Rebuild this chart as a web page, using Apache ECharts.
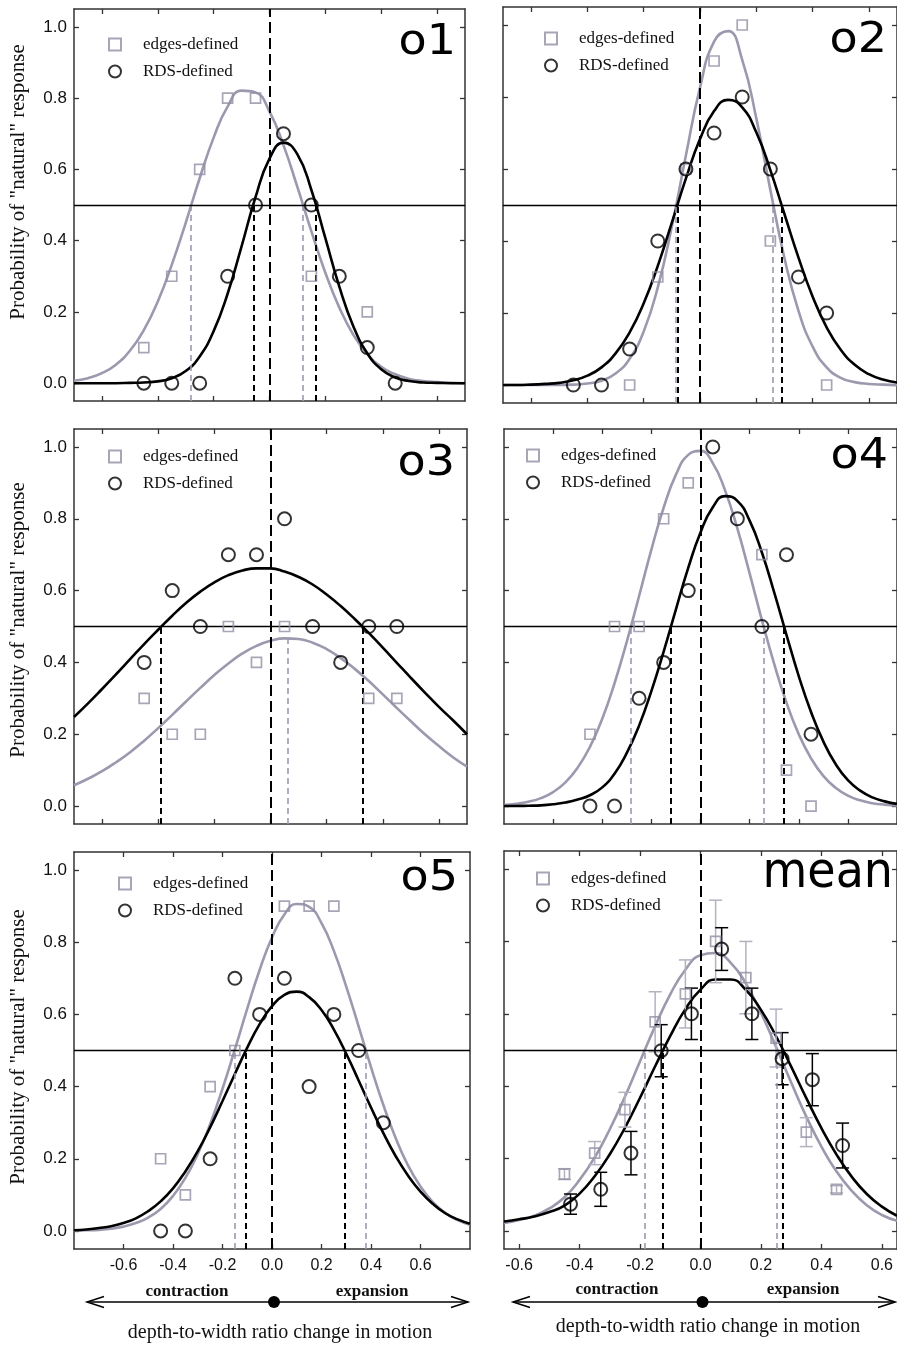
<!DOCTYPE html>
<html><head><meta charset="utf-8">
<script src="https://cdn.jsdelivr.net/npm/echarts@6/dist/echarts.min.js"></script>
<style>html,body{margin:0;padding:0;background:#fff}#c{width:897px;height:1346px}</style>
</head><body><div id="c"></div>
<script>
// ---------------- DATA ----------------
const xTickVals = [-0.6, -0.4, -0.2, 0.0, 0.2, 0.4, 0.6];
const yTickVals = [0.0, 0.2, 0.4, 0.6, 0.8, 1.0];
const criterion = 0.5;
const noChange = 0.0;
const stimLevels = [-0.45, -0.35, -0.25, -0.15, -0.05, 0.05, 0.15, 0.25, 0.35, 0.45];

const fitX70 = [-0.70,-0.65,-0.60,-0.55,-0.50,-0.45,-0.40,-0.35,-0.30,-0.25,-0.20,-0.15,-0.10,-0.05,0.00,0.05,0.10,0.15,0.20,0.25,0.30,0.35,0.40,0.45,0.50,0.55,0.60,0.65,0.70];
const fitX80 = [-0.80,-0.75,-0.70,-0.65,-0.60,-0.55,-0.50,-0.45,-0.40,-0.35,-0.30,-0.25,-0.20,-0.15,-0.10,-0.05,0.00,0.05,0.10,0.15,0.20,0.25,0.30,0.35,0.40,0.45,0.50,0.55,0.60,0.65,0.70,0.75,0.80];
const fitX65 = [-0.65,-0.60,-0.55,-0.50,-0.45,-0.40,-0.35,-0.30,-0.25,-0.20,-0.15,-0.10,-0.05,0.00,0.05,0.10,0.15,0.20,0.25,0.30,0.35,0.40,0.45,0.50,0.55,0.60,0.65];

// o1
const o1EdgesX = [-0.45, -0.35, -0.25, -0.15, -0.05, 0.15, 0.35];
const o1EdgesY = [0.1, 0.3, 0.6, 0.8, 0.8, 0.3, 0.2];
const o1RdsY = [0.0, 0.0, 0.0, 0.3, 0.5, 0.7, 0.5, 0.3, 0.1, 0.0];
const o1EdgesFit = [0.007,0.014,0.028,0.052,0.091,0.149,0.229,0.332,0.450,0.575,0.689,0.776,0.821,0.816,0.762,0.668,0.550,0.426,0.310,0.212,0.136,0.082,0.046,0.025,0.012,0.006,0.003,0.001,0.000];
const o1RdsFit = [0,0,0,0,0.001,0.002,0.005,0.014,0.034,0.075,0.146,0.251,0.384,0.522,0.630,0.675,0.642,0.542,0.407,0.271,0.160,0.084,0.039,0.016,0.006,0.002,0.001,0,0];
const o1EdgesThr = [[-0.282, 0.5], [0.120, 0.5]];
const o1RdsThr = [[-0.058, 0.5], [0.164, 0.5]];

// o2
const o2EdgesX = [-0.25, -0.15, -0.05, 0.05, 0.15, 0.25, 0.45];
const o2EdgesY = [0.0, 0.3, 0.6, 0.9, 1.0, 0.4, 0.0];
const o2RdsY = [0.0, 0.0, 0.1, 0.4, 0.6, 0.7, 0.8, 0.6, 0.3, 0.2];
const o2EdgesFit = [0,0,0,0,0,0.001,0.004,0.012,0.032,0.073,0.149,0.271,0.440,0.638,0.826,0.954,0.983,0.903,0.741,0.542,0.353,0.206,0.107,0.049,0.020,0.008,0.003,0.001,0];
const o2RdsFit = [0,0,0.001,0.003,0.006,0.013,0.026,0.049,0.088,0.146,0.227,0.331,0.451,0.574,0.683,0.761,0.792,0.771,0.702,0.597,0.475,0.354,0.246,0.160,0.098,0.056,0.030,0.015,0.007];
const o2EdgesThr = [[-0.085, 0.5], [0.257, 0.5]];
const o2RdsThr = [[-0.079, 0.5], [0.290, 0.5]];

// o3
const o3EdgesX = [-0.45, -0.35, -0.25, -0.15, -0.05, 0.05, 0.35, 0.45];
const o3EdgesY = [0.3, 0.2, 0.2, 0.5, 0.4, 0.5, 0.3, 0.3];
const o3RdsY = [0.4, 0.6, 0.5, 0.7, 0.7, 0.8, 0.5, 0.4, 0.5, 0.5];
const o3EdgesFit = [0.058,0.076,0.097,0.122,0.150,0.182,0.217,0.254,0.292,0.329,0.365,0.397,0.425,0.446,0.460,0.467,0.465,0.455,0.437,0.412,0.382,0.348,0.311,0.273,0.236,0.200,0.167,0.136,0.110];
const o3RdsFit = [0.248,0.286,0.326,0.367,0.409,0.451,0.491,0.530,0.566,0.597,0.623,0.643,0.656,0.662,0.662,0.653,0.638,0.617,0.589,0.557,0.521,0.482,0.441,0.399,0.357,0.316,0.276,0.239,0.200];
const o3EdgesThr = [[0.063, 0.467]];
const o3RdsThr = [[-0.390, 0.5], [0.327, 0.5]];

// o4
const o4EdgesX = [-0.45, -0.35, -0.25, -0.15, -0.05, 0.25, 0.35, 0.45];
const o4EdgesY = [0.2, 0.5, 0.5, 0.8, 0.9, 0.7, 0.1, 0.0];
const o4RdsY = [0.0, 0.0, 0.3, 0.4, 0.6, 1.0, 0.8, 0.5, 0.7, 0.2];
const o4EdgesFit = [0.003,0.006,0.012,0.022,0.039,0.066,0.107,0.165,0.243,0.342,0.458,0.585,0.714,0.831,0.923,0.978,0.989,0.955,0.879,0.773,0.648,0.518,0.396,0.288,0.200,0.133,0.084,0.051,0.029,0.016,0.008,0.004,0.002];
const o4RdsFit = [0,0,0.001,0.002,0.005,0.010,0.018,0.030,0.052,0.090,0.148,0.224,0.320,0.430,0.548,0.663,0.762,0.832,0.863,0.850,0.795,0.706,0.595,0.477,0.362,0.262,0.180,0.117,0.072,0.043,0.024,0.013,0.006];
const o4EdgesThr = [[-0.284, 0.5], [0.257, 0.5]];
const o4RdsThr = [[-0.120, 0.5], [0.340, 0.5]];

// o5
const o5EdgesX = [-0.45, -0.35, -0.25, -0.15, 0.05, 0.15, 0.25];
const o5EdgesY = [0.2, 0.1, 0.4, 0.5, 0.9, 0.9, 0.9];
const o5RdsY = [0.0, 0.0, 0.2, 0.7, 0.6, 0.7, 0.4, 0.6, 0.5, 0.3];
const o5EdgesFit = [0.001,0.002,0.003,0.006,0.012,0.022,0.037,0.061,0.097,0.147,0.213,0.296,0.394,0.503,0.616,0.723,0.813,0.877,0.906,0.898,0.853,0.776,0.677,0.567,0.454,0.349,0.257,0.181,0.123,0.080,0.050,0.030,0.017];
const o5RdsFit = [0.002,0.004,0.008,0.013,0.022,0.035,0.055,0.082,0.118,0.165,0.221,0.287,0.360,0.435,0.508,0.573,0.623,0.654,0.663,0.648,0.612,0.558,0.491,0.417,0.342,0.271,0.207,0.153,0.109,0.075,0.049,0.032,0.020];
const o5EdgesThr = [[-0.152, 0.5], [0.380, 0.5]];
const o5RdsThr = [[-0.106, 0.5], [0.295, 0.5]];

// mean (with standard errors)
const meanEdgesX = [-0.45, -0.35, -0.25, -0.15, -0.05, 0.05, 0.15, 0.25, 0.35, 0.45];
const meanEdgesY = [0.157, 0.215, 0.335, 0.578, 0.655, 0.800, 0.700, 0.533, 0.273, 0.115];
const meanEdgesErr = [0.015, 0.032, 0.048, 0.083, 0.094, 0.114, 0.100, 0.080, 0.040, 0.010];
const meanRdsX = [-0.43, -0.33, -0.23, -0.13, -0.03, 0.07, 0.17, 0.27, 0.37, 0.47];
const meanRdsY = [0.074, 0.115, 0.215, 0.498, 0.600, 0.779, 0.600, 0.476, 0.418, 0.236];
const meanRdsErr = [0.028, 0.047, 0.060, 0.072, 0.071, 0.059, 0.071, 0.072, 0.072, 0.062];
const meanEdgesFit = [0.022,0.030,0.042,0.062,0.093,0.141,0.203,0.281,0.371,0.469,0.566,0.654,0.722,0.762,0.768,0.741,0.684,0.603,0.508,0.410,0.316,0.233,0.164,0.111,0.071,0.044,0.028];
const meanRdsFit = [0.026,0.032,0.040,0.052,0.070,0.103,0.151,0.212,0.285,0.368,0.455,0.539,0.613,0.667,0.695,0.695,0.666,0.611,0.538,0.454,0.367,0.284,0.211,0.150,0.102,0.067,0.042];
const meanEdgesThr = [[-0.184, 0.5], [0.253, 0.5]];
const meanRdsThr = [[-0.124, 0.5], [0.273, 0.5]];

const panelNames = ['o1', 'o2', 'o3', 'o4', 'o5', 'mean'];
const legendNames = ['edges-defined', 'RDS-defined'];
const yTitle = 'Probability of "natural" response';
const xTitle = 'depth-to-width ratio change in motion';
const dirLabels = ['contraction', 'expansion'];

// ---------------- LAYOUT / STYLE ----------------
const Y_MIN = -0.05, Y_MAX = 1.05;
const GRAY = '#9b99ae', GRAY_MK = '#918fa4', GRAY_ERR = '#b3b2c0', INK = '#111', AX = '#333';
const SERIF = '"Liberation Serif","Times New Roman",serif';
const SANS = '"Liberation Sans",Arial,sans-serif';

const panels = [
  {grid:{left:74, top:9, width:391, height:392}, xMin:-0.7, xMax:0.7, fitX:fitX70,
   eX:o1EdgesX, eY:o1EdgesY, rX:stimLevels, rY:o1RdsY, eFit:o1EdgesFit, rFit:o1RdsFit, eThr:o1EdgesThr, rThr:o1RdsThr,
   yLab:true, xLab:false, legend:[108,36], tag:[456,43,43,1.07]},
  {grid:{left:503, top:7, width:402, height:396}, xMin:-0.7, xMax:0.7, fitX:fitX70,
   eX:o2EdgesX, eY:o2EdgesY, rX:stimLevels, rY:o2RdsY, eFit:o2EdgesFit, rFit:o2RdsFit, eThr:o2EdgesThr, rThr:o2RdsThr,
   yLab:false, xLab:false, legend:[544,30], tag:[887,41,43,1.07]},
  {grid:{left:74, top:429, width:393, height:395}, xMin:-0.7, xMax:0.7, fitX:fitX70,
   eX:o3EdgesX, eY:o3EdgesY, rX:stimLevels, rY:o3RdsY, eFit:o3EdgesFit, rFit:o3RdsFit, eThr:o3EdgesThr, rThr:o3RdsThr,
   yLab:true, xLab:false, legend:[108,448], tag:[455,464,43,1.07]},
  {grid:{left:504, top:429, width:421, height:395}, xMin:-0.8, xMax:0.8, fitX:fitX80,
   eX:o4EdgesX, eY:o4EdgesY, rX:stimLevels, rY:o4RdsY, eFit:o4EdgesFit, rFit:o4RdsFit, eThr:o4EdgesThr, rThr:o4RdsThr,
   yLab:false, xLab:false, legend:[526,447], tag:[888,457,43,1.07]},
  {grid:{left:74, top:852, width:396, height:397}, xMin:-0.8, xMax:0.8, fitX:fitX80,
   eX:o5EdgesX, eY:o5EdgesY, rX:stimLevels, rY:o5RdsY, eFit:o5EdgesFit, rFit:o5RdsFit, eThr:o5EdgesThr, rThr:o5RdsThr,
   yLab:true, xLab:true, legend:[118,875], tag:[458,879,43,1.07]},
  {grid:{left:504, top:851, width:398, height:398}, xMin:-0.65, xMax:0.65, fitX:fitX65,
   eX:meanEdgesX, eY:meanEdgesY, rX:meanRdsX, rY:meanRdsY, eFit:meanEdgesFit, rFit:meanRdsFit, eThr:meanEdgesThr, rThr:meanRdsThr,
   eErr:meanEdgesErr, rErr:meanRdsErr,
   yLab:false, xLab:true, legend:[536,870], tag:[893,874,50,0.92]}
];

function errRender(color, width) {
  return function (params, api) {
    const x = api.value(0), lo = api.value(1), hi = api.value(2);
    const p1 = api.coord([x, lo]), p2 = api.coord([x, hi]);
    const cap = 6.5;
    const st = {stroke: color, lineWidth: width, fill: null};
    return {type: 'group', children: [
      {type: 'line', shape: {x1: p1[0], y1: p1[1], x2: p2[0], y2: p2[1]}, style: st},
      {type: 'line', shape: {x1: p1[0] - cap, y1: p1[1], x2: p1[0] + cap, y2: p1[1]}, style: st},
      {type: 'line', shape: {x1: p2[0] - cap, y1: p2[1], x2: p2[0] + cap, y2: p2[1]}, style: st}
    ]};
  };
}

const grids = [], xAxes = [], yAxes = [], series = [], legends = [];
panels.forEach((p, i) => {
  grids.push(p.grid);
  ['bottom', 'top'].forEach(pos => xAxes.push({
    gridIndex: i, type: 'value', position: pos, min: p.xMin, max: p.xMax,
    axisLine: {show: true, onZero: false, lineStyle: {color: AX, width: 1.5}},
    axisTick: {show: true, inside: true, length: 5, customValues: xTickVals, lineStyle: {color: AX, width: 1.3}},
    axisLabel: {show: pos === 'bottom' && p.xLab, customValues: xTickVals, formatter: v => v.toFixed(1),
      margin: 9, fontFamily: SANS, fontSize: 16, color: INK},
    splitLine: {show: false}
  }));
  ['left', 'right'].forEach(pos => yAxes.push({
    gridIndex: i, type: 'value', position: pos, min: Y_MIN, max: Y_MAX,
    axisLine: {show: true, onZero: false, lineStyle: {color: AX, width: 1.5}},
    axisTick: {show: true, inside: true, length: 5, customValues: yTickVals, lineStyle: {color: AX, width: 1.3}},
    axisLabel: {show: pos === 'left' && p.yLab, customValues: yTickVals, formatter: v => v.toFixed(1),
      margin: 7, fontFamily: SANS, fontSize: 17, color: INK},
    splitLine: {show: false}
  }));
  const xi = i * 2, yi = i * 2;
  const common = {xAxisIndex: xi, yAxisIndex: yi, silent: true, animation: false};
  const thrLine = t => [{coord: [t[0], Y_MIN]}, {coord: [t[0], t[1]]}];
  series.push(Object.assign({
    type: 'line', name: 'edges fit', data: p.fitX.map((x, k) => [x, p.eFit[k]]),
    smooth: true, showSymbol: false, symbol: 'none', lineStyle: {color: GRAY, width: 2.6}, itemStyle: {color: GRAY}, z: 3,
    markLine: {silent: true, symbol: ['none', 'none'], label: {show: false}, animation: false, emphasis: {disabled: true},
      lineStyle: {color: GRAY, width: 1.6, type: [6, 4]}, data: p.eThr.map(thrLine)}
  }, common));
  series.push(Object.assign({
    type: 'line', name: 'RDS fit', data: p.fitX.map((x, k) => [x, p.rFit[k]]),
    smooth: true, showSymbol: false, symbol: 'none', lineStyle: {color: '#000', width: 2.6}, itemStyle: {color: '#000'}, z: 3,
    markLine: {silent: true, symbol: ['none', 'none'], label: {show: false}, animation: false, emphasis: {disabled: true},
      lineStyle: {color: '#000', width: 2, type: [6, 4]},
      data: p.rThr.map(thrLine).concat([
        {xAxis: noChange, lineStyle: {color: '#000', width: 2, type: [11, 5]}},
        {yAxis: criterion, lineStyle: {color: '#000', width: 1.3, type: 'solid'}}
      ])}
  }, common));
  if (p.eErr) {
    series.push(Object.assign({type: 'custom', name: 'edges err', renderItem: errRender(GRAY_ERR, 1.5),
      encode: {x: 0, y: [1, 2]}, data: p.eX.map((x, k) => [x, p.eY[k] - p.eErr[k], p.eY[k] + p.eErr[k]]), z: 4}, common));
    series.push(Object.assign({type: 'custom', name: 'RDS err', renderItem: errRender('#000', 1.5),
      encode: {x: 0, y: [1, 2]}, data: p.rX.map((x, k) => [x, p.rY[k] - p.rErr[k], p.rY[k] + p.rErr[k]]), z: 4}, common));
  }
  series.push(Object.assign({
    type: 'scatter', name: legendNames[0], data: p.eX.map((x, k) => [x, p.eY[k]]),
    symbol: 'rect', symbolSize: 10, itemStyle: {color: 'rgba(255,255,255,0)', borderColor: GRAY_MK, borderWidth: 1.7}, z: 5
  }, common));
  series.push(Object.assign({
    type: 'scatter', name: legendNames[1], data: p.rX.map((x, k) => [x, p.rY[k]]),
    symbol: 'circle', symbolSize: 13, itemStyle: {color: 'rgba(255,255,255,0)', borderColor: '#000', borderWidth: 2}, z: 6
  }, common));
  legends.push({left: p.legend[0], top: p.legend[1], orient: 'vertical', padding: 0, itemGap: 10,
    itemWidth: 12, itemHeight: 12, selectedMode: false,
    textStyle: {fontFamily: SERIF, fontSize: 17, color: INK, padding: [0, 0, 0, 17]},
    data: legendNames});
});

const graphics = [];
panels.forEach((p, i) => {
  graphics.push({id: 'tag' + i, type: 'text', x: p.tag[0], y: p.tag[1], scaleX: p.tag[3], originX: 0, originY: 0, z: 20,
    style: {text: panelNames[i], font: p.tag[2] + 'px "DejaVu Sans"', fill: '#000', align: 'right', verticalAlign: 'middle'}});
});
[182, 620, 1047].forEach((y, k) => graphics.push({id: 'yt' + k, type: 'text', x: 18, y: y, rotation: Math.PI / 2,
  style: {text: yTitle, font: '21px ' + SERIF, fill: INK, align: 'center', verticalAlign: 'middle'}}));

const chart = echarts.init(document.getElementById('c'));
chart.setOption({animation: false, grid: grids, xAxis: xAxes, yAxis: yAxes, series: series, legend: legends,
  graphic: {elements: graphics}});

// bottom annotations, anchored on each bottom panel's zero
const bottoms = [
  {axis: 8, left: 87, right: 468, y: 1302, lab: [187, 372], labY: 1292, titleX: 280, titleY: 1333},
  {axis: 10, left: 513, right: 895, y: 1302, lab: [617, 803], labY: 1290, titleX: 708, titleY: 1327}
];
const extra = [];
bottoms.forEach((b, k) => {
  const x0 = chart.convertToPixel({xAxisIndex: b.axis}, noChange);
  const ls = {stroke: '#000', lineWidth: 1.5, fill: null};
  extra.push({id: 'al' + k, type: 'line', shape: {x1: b.left, y1: b.y, x2: b.right, y2: b.y}, style: ls});
  extra.push({id: 'ahl' + k, type: 'polyline', shape: {points: [[b.left + 17, b.y - 5.5], [b.left, b.y], [b.left + 17, b.y + 5.5]]}, style: ls});
  extra.push({id: 'ahr' + k, type: 'polyline', shape: {points: [[b.right - 17, b.y - 5.5], [b.right, b.y], [b.right - 17, b.y + 5.5]]}, style: ls});
  extra.push({id: 'dot' + k, type: 'circle', shape: {cx: x0 + 2, cy: b.y, r: 6}, style: {fill: '#000'}});
  dirLabels.forEach((t, j) => extra.push({id: 'dl' + k + j, type: 'text', x: b.lab[j], y: b.labY,
    style: {text: t, font: 'bold 17px ' + SERIF, fill: INK, align: 'center', verticalAlign: 'middle'}}));
  extra.push({id: 'xt' + k, type: 'text', x: b.titleX, y: b.titleY,
    style: {text: xTitle, font: '20px ' + SERIF, fill: INK, align: 'center', verticalAlign: 'middle'}});
});
chart.setOption({graphic: {elements: extra}});
</script></body></html>
